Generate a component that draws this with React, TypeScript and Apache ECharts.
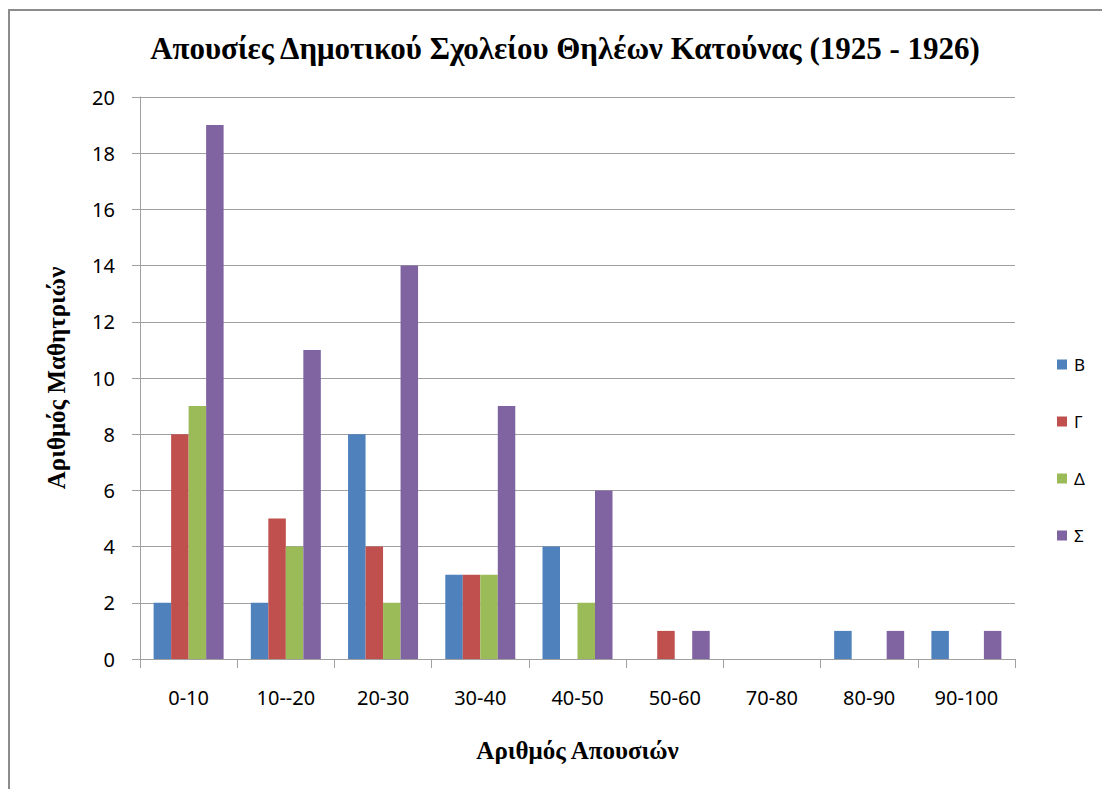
import React, { useEffect, useRef } from "react";
import * as echarts from "echarts";

const titleText = "Απουσίες Δημοτικού Σχολείου Θηλέων Κατούνας (1925 - 1926)";
const xAxisName = "Αριθμός Απουσιών";
const yAxisName = "Αριθμός Μαθητριών";
const categories = ["0-10", "10--20", "20-30", "30-40", "40-50", "50-60", "70-80", "80-90", "90-100"];
const seriesNames = ["Β", "Γ", "Δ", "Σ"];
const valuesB = [2, 2, 8, 3, 4, 0, 0, 1, 1];
const valuesG = [8, 5, 4, 3, 0, 1, 0, 0, 0];
const valuesD = [9, 4, 2, 3, 2, 0, 0, 0, 0];
const valuesS = [19, 11, 14, 9, 6, 1, 0, 1, 1];
const colors = ["#4F81BD", "#C0504D", "#9BBB59", "#8064A2"];

export default function App() {
  const ref = useRef<HTMLDivElement>(null);
  useEffect(() => {
    if (!ref.current) return;
    const chart = echarts.init(ref.current, undefined, { renderer: "svg" });
    const allValues = [valuesB, valuesG, valuesD, valuesS];
    chart.setOption({
      animation: false,
      backgroundColor: "#ffffff",
      title: {
        text: titleText,
        left: 560,
        textAlign: "center",
        top: 28,
        textStyle: {
          fontFamily: "Liberation Serif",
          fontWeight: "bold",
          fontSize: 31,
          color: "#000",
        },
      },
      graphic: [
        {
          type: "rect",
          shape: { x: 9, y: 10, width: 1200, height: 900 },
          style: { fill: "none", stroke: "#8c8c8c", lineWidth: 2 },
          silent: true,
        },
      ],
      legend: {
        orient: "vertical",
        left: 1052,
        top: 351,
        itemWidth: 10,
        itemHeight: 10,
        itemGap: 40,
        icon: "rect",
        textStyle: { fontFamily: "Noto Sans", fontSize: 17, color: "#000", padding: [0, 0, 0, 2] },
        data: seriesNames,
      },
      grid: { left: 140, right: 87, top: 97, bottom: 130, containLabel: false },
      xAxis: {
        type: "category",
        data: categories,
        name: xAxisName,
        nameLocation: "middle",
        nameGap: 79,
        nameTextStyle: { fontFamily: "Liberation Serif", fontWeight: "bold", fontSize: 25, color: "#000" },
        axisLine: { show: true, lineStyle: { color: "#a0a0a0", width: 1 } },
        axisTick: { show: true, alignWithLabel: false, length: 9, lineStyle: { color: "#a0a0a0" } },
        axisLabel: { fontFamily: "Noto Sans", fontSize: 20, color: "#000", margin: 28, interval: 0 },
      },
      yAxis: {
        type: "value",
        min: 0,
        max: 20,
        interval: 2,
        name: yAxisName,
        nameLocation: "middle",
        nameGap: 71,
        nameRotate: 90,
        nameTextStyle: { fontFamily: "Liberation Serif", fontWeight: "bold", fontSize: 25, color: "#000" },
        axisLine: { show: true, lineStyle: { color: "#a0a0a0", width: 1 } },
        axisTick: { show: true, length: 8, lineStyle: { color: "#a0a0a0" } },
        splitLine: { show: true, lineStyle: { color: "#a0a0a0", width: 1 } },
        axisLabel: { fontFamily: "Noto Sans", fontSize: 20, color: "#000", margin: 25 },
      },
      series: seriesNames.map((name, i) => ({
        name,
        type: "bar",
        data: allValues[i],
        barGap: "0%",
        barCategoryGap: "28%",
        itemStyle: { color: colors[i] },
      })),
    });
    return () => chart.dispose();
  }, []);
  return (
    <div
      ref={ref}
      style={{ position: "fixed", left: 0, top: 0, width: 1102, height: 789 }}
    />
  );
}
